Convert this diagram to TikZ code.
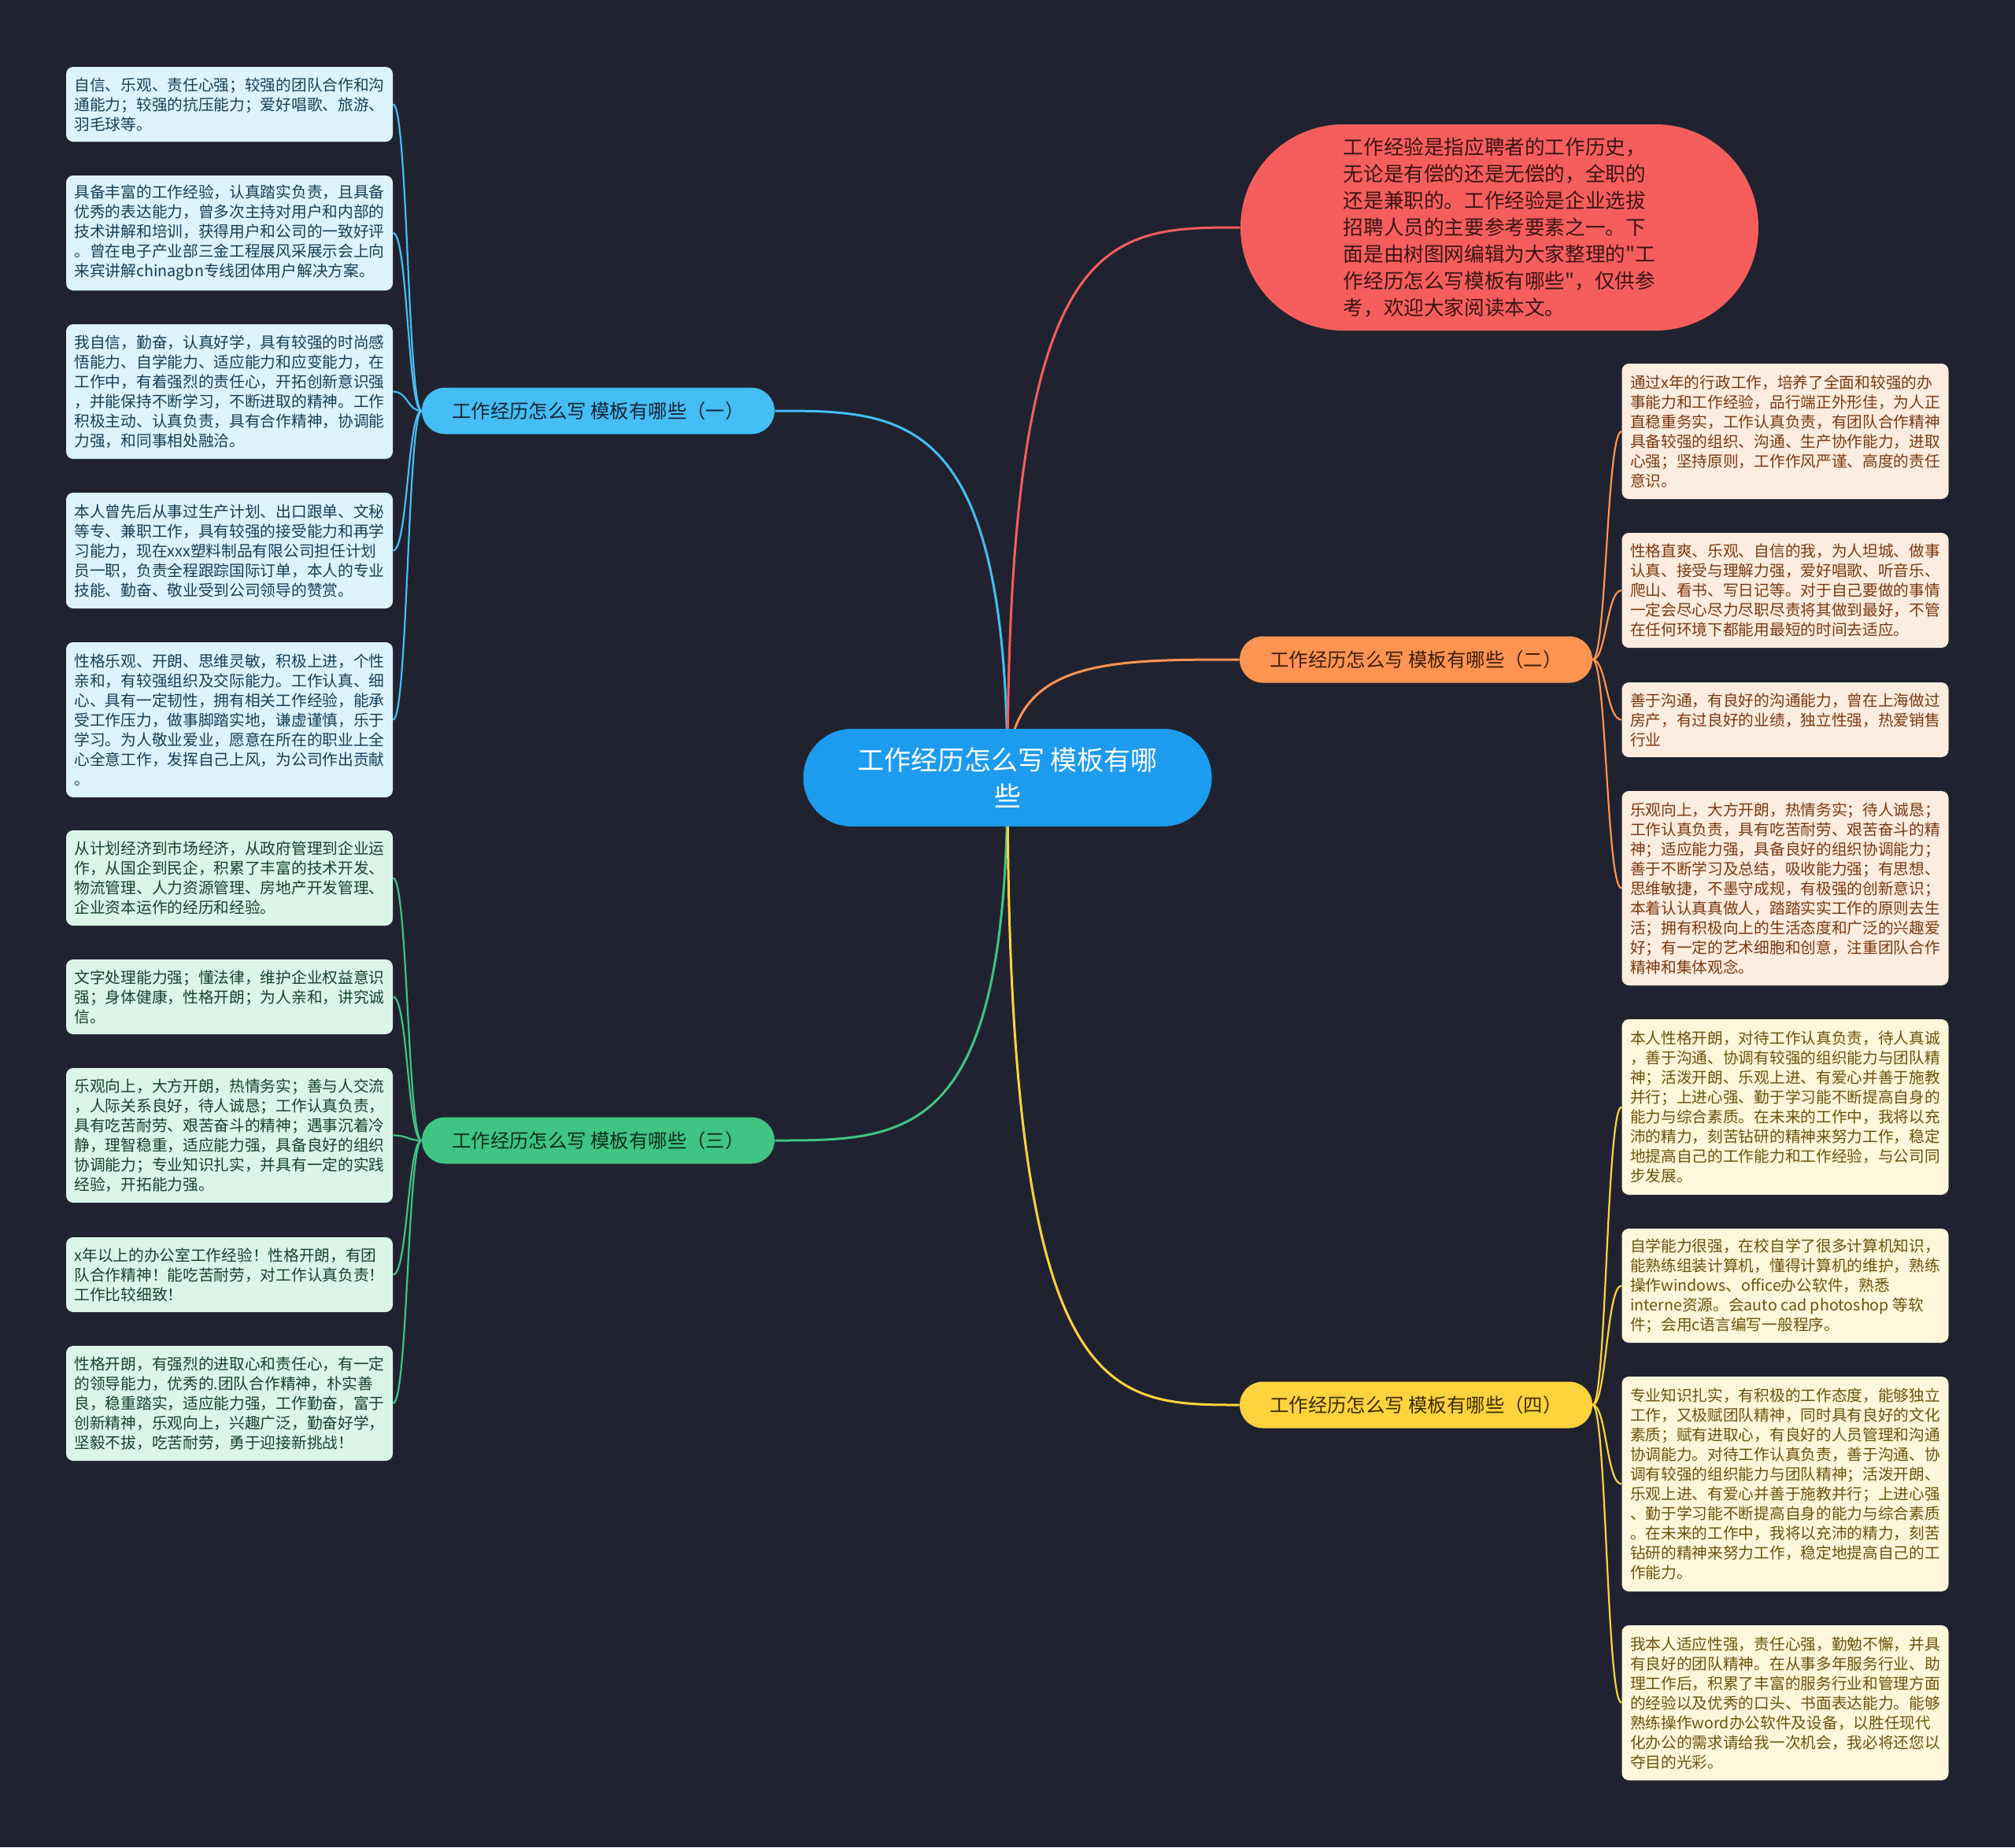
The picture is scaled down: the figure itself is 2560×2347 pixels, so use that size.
\documentclass[tikz,border=0pt]{standalone}
\usepackage{fontspec}
\newfontfamily\cjk{Noto Sans CJK SC}
\usetikzlibrary{backgrounds}
\definecolor{bgc}{RGB}{32,35,47}
\definecolor{cmain}{RGB}{28,155,239}
\definecolor{cred}{RGB}{246,94,94}
\definecolor{cb1}{RGB}{69,190,245}
\definecolor{cb2}{RGB}{255,148,82}
\definecolor{cb3}{RGB}{63,196,131}
\definecolor{cb4}{RGB}{255,211,61}
\definecolor{fb1}{RGB}{221,243,253}
\definecolor{fb2}{RGB}{253,236,224}
\definecolor{fb3}{RGB}{220,245,233}
\definecolor{fb4}{RGB}{254,247,219}
\definecolor{tb1}{RGB}{22,62,88}
\definecolor{tb2}{RGB}{122,56,16}
\definecolor{tb3}{RGB}{22,66,46}
\definecolor{tb4}{RGB}{108,82,10}
\definecolor{tred}{RGB}{58,20,20}
\tikzset{
  leafbox/.style={rounded corners=4.5pt, minimum width=207.5pt, inner sep=0pt, align=left,
    font=\cjk\fontsize{9.85}{12.5}\selectfont},
  bluebox/.style={leafbox, fill=fb1, text=tb1},
  orangebox/.style={leafbox, fill=fb2, text=tb2},
  greenbox/.style={leafbox, fill=fb3, text=tb3},
  yellowbox/.style={leafbox, fill=fb4, text=tb4},
  branchbox/.style={minimum width=224pt, minimum height=29.5pt, rounded corners=14.7pt, inner sep=0pt,
    font=\cjk\fontsize{12.2}{14}\selectfont},
  mainline/.style={line width=1.5pt},
  leafline/.style={line width=1.1pt},
}
\begin{document}
\begin{tikzpicture}[x=0.5pt,y=-0.5pt]
\useasboundingbox (0,0) rectangle (2560,2347);

% central topic
\node[fill=cmain, text=white, minimum width=259.5pt, minimum height=62pt, rounded corners=30.9pt,
  inner sep=0pt, align=center, font=\cjk\fontsize{17}{23}\selectfont] (c) at (1280,988)
  {工作经历怎么写 模板有哪\\些};

% intro bubble
\node[fill=cred, text=tred, minimum width=329pt, minimum height=131pt, rounded corners=65.4pt,
  inner sep=0pt, align=left, font=\cjk\fontsize{12.8}{17}\selectfont] (r) at (1905,289)
  {工作经验是指应聘者的工作历史，\\
   无论是有偿的还是无偿的，全职的\\
   还是兼职的。工作经验是企业选拔\\
   招聘人员的主要参考要素之一。下\\
   面是由树图网编辑为大家整理的"工\\
   作经历怎么写模板有哪些"，仅供参\\
   考，欢迎大家阅读本文。};

% branches
\node[branchbox, fill=cb1, text={rgb,255:red,20;green,35;blue,50}] (b1) at (760,522) {工作经历怎么写 模板有哪些（一）};
\node[branchbox, fill=cb2, text={rgb,255:red,60;green,30;blue,10}] (b2) at (1799,838) {工作经历怎么写 模板有哪些（二）};
\node[branchbox, fill=cb3, text={rgb,255:red,10;green,45;blue,28}] (b3) at (760,1449) {工作经历怎么写 模板有哪些（三）};
\node[branchbox, fill=cb4, text={rgb,255:red,60;green,45;blue,0}] (b4) at (1799,1785) {工作经历怎么写 模板有哪些（四）};

% branch 1 leaves
\node[bluebox, minimum height=47.5pt] (l1) at (291.5,132.5) {自信、乐观、责任心强；较强的团队合作和沟\\通能力；较强的抗压能力；爱好唱歌、旅游、\\羽毛球等。};
\node[bluebox, minimum height=73pt] (l2) at (291.5,296) {具备丰富的工作经验，认真踏实负责，且具备\\优秀的表达能力，曾多次主持对用户和内部的\\技术讲解和培训，获得用户和公司的一致好评\\。曾在电子产业部三金工程展风采展示会上向\\来宾讲解chinagbn专线团体用户解决方案。};
\node[bluebox, minimum height=85.5pt] (l3) at (291.5,497.5) {我自信，勤奋，认真好学，具有较强的时尚感\\悟能力、自学能力、适应能力和应变能力，在\\工作中，有着强烈的责任心，开拓创新意识强\\，并能保持不断学习，不断进取的精神。工作\\积极主动、认真负责，具有合作精神，协调能\\力强，和同事相处融洽。};
\node[bluebox, minimum height=73.5pt] (l4) at (291.5,699.5) {本人曾先后从事过生产计划、出口跟单、文秘\\等专、兼职工作，具有较强的接受能力和再学\\习能力，现在xxx塑料制品有限公司担任计划\\员一职，负责全程跟踪国际订单，本人的专业\\技能、勤奋、敬业受到公司领导的赞赏。};
\node[bluebox, minimum height=98.5pt] (l5) at (291.5,914.5) {性格乐观、开朗、思维灵敏，积极上进，个性\\亲和，有较强组织及交际能力。工作认真、细\\心、具有一定韧性，拥有相关工作经验，能承\\受工作压力，做事脚踏实地，谦虚谨慎，乐于\\学习。为人敬业爱业，愿意在所在的职业上全\\心全意工作，发挥自己上风，为公司作出贡献\\。};

% branch 3 leaves
\node[greenbox, minimum height=60.5pt] (g1) at (291.5,1115.5) {从计划经济到市场经济，从政府管理到企业运\\作，从国企到民企，积累了丰富的技术开发、\\物流管理、人力资源管理、房地产开发管理、\\企业资本运作的经历和经验。};
\node[greenbox, minimum height=47.5pt] (g2) at (291.5,1266.5) {文字处理能力强；懂法律，维护企业权益意识\\强；身体健康，性格开朗；为人亲和，讲究诚\\信。};
\node[greenbox, minimum height=85.5pt] (g3) at (291.5,1442.5) {乐观向上，大方开朗，热情务实；善与人交流\\，人际关系良好，待人诚恳；工作认真负责，\\具有吃苦耐劳、艰苦奋斗的精神；遇事沉着冷\\静，理智稳重，适应能力强，具备良好的组织\\协调能力；专业知识扎实，并具有一定的实践\\经验，开拓能力强。};
\node[greenbox, minimum height=47.5pt] (g4) at (291.5,1619.5) {x年以上的办公室工作经验！性格开朗，有团\\队合作精神！能吃苦耐劳，对工作认真负责！\\工作比较细致！};
\node[greenbox, minimum height=73pt] (g5) at (291.5,1783) {性格开朗，有强烈的进取心和责任心，有一定\\的领导能力，优秀的.团队合作精神，朴实善\\良，稳重踏实，适应能力强，工作勤奋，富于\\创新精神，乐观向上，兴趣广泛，勤奋好学，\\坚毅不拔，吃苦耐劳，勇于迎接新挑战！};

% branch 2 leaves
\node[orangebox, minimum height=86pt] (o1) at (2268,548) {通过x年的行政工作，培养了全面和较强的办\\事能力和工作经验，品行端正外形佳，为人正\\直稳重务实，工作认真负责，有团队合作精神\\具备较强的组织、沟通、生产协作能力，进取\\心强；坚持原则，工作作风严谨、高度的责任\\意识。};
\node[orangebox, minimum height=73pt] (o2) at (2268,750) {性格直爽、乐观、自信的我，为人坦城、做事\\认真、接受与理解力强，爱好唱歌、听音乐、\\爬山、看书、写日记等。对于自己要做的事情\\一定会尽心尽力尽职尽责将其做到最好，不管\\在任何环境下都能用最短的时间去适应。};
\node[orangebox, minimum height=47.5pt] (o3) at (2268,914.5) {善于沟通，有良好的沟通能力，曾在上海做过\\房产，有过良好的业绩，独立性强，热爱销售\\行业};
\node[orangebox, minimum height=123.5pt] (o4) at (2268,1128.5) {乐观向上，大方开朗，热情务实；待人诚恳；\\工作认真负责，具有吃苦耐劳、艰苦奋斗的精\\神；适应能力强，具备良好的组织协调能力；\\善于不断学习及总结，吸收能力强；有思想、\\思维敏捷，不墨守成规，有极强的创新意识；\\本着认认真真做人，踏踏实实工作的原则去生\\活；拥有积极向上的生活态度和广泛的兴趣爱\\好；有一定的艺术细胞和创意，注重团队合作\\精神和集体观念。};

% branch 4 leaves
\node[yellowbox, minimum height=111.5pt] (y1) at (2268,1406.5) {本人性格开朗，对待工作认真负责，待人真诚\\，善于沟通、协调有较强的组织能力与团队精\\神；活泼开朗、乐观上进、有爱心并善于施教\\并行；上进心强、勤于学习能不断提高自身的\\能力与综合素质。在未来的工作中，我将以充\\沛的精力，刻苦钻研的精神来努力工作，稳定\\地提高自己的工作能力和工作经验，与公司同\\步发展。};
\node[yellowbox, minimum height=72.5pt] (y2) at (2268,1633.5) {自学能力很强，在校自学了很多计算机知识，\\能熟练组装计算机，懂得计算机的维护，熟练\\操作windows、office办公软件，熟悉\\interne资源。会auto cad photoshop 等软\\件；会用c语言编写一般程序。};
\node[yellowbox, minimum height=136.5pt] (y3) at (2268,1885.5) {专业知识扎实，有积极的工作态度，能够独立\\工作，又极赋团队精神，同时具有良好的文化\\素质；赋有进取心，有良好的人员管理和沟通\\协调能力。对待工作认真负责，善于沟通、协\\调有较强的组织能力与团队精神；活泼开朗、\\乐观上进、有爱心并善于施教并行；上进心强\\、勤于学习能不断提高自身的能力与综合素质\\。在未来的工作中，我将以充沛的精力，刻苦\\钻研的精神来努力工作，稳定地提高自己的工\\作能力。};
\node[yellowbox, minimum height=98.5pt] (y4) at (2268,2163.5) {我本人适应性强，责任心强，勤勉不懈，并具\\有良好的团队精神。在从事多年服务行业、助\\理工作后，积累了丰富的服务行业和管理方面\\的经验以及优秀的口头、书面表达能力。能够\\熟练操作word办公软件及设备，以胜任现代\\化办公的需求请给我一次机会，我必将还您以\\夺目的光彩。};

\begin{pgfonlayer}{background}
\fill[bgc] (0,0) rectangle (2560,2347);
% main connectors
\draw[mainline, cb1] (c.center) .. controls (1280,522) and (1150,522) .. (b1.east);
\draw[mainline, cred] (c.center) .. controls (1280,289) and (1404,289) .. (r.west);
\draw[mainline, cb2] (c.center) .. controls (1280,838) and (1400,838) .. (b2.west);
\draw[mainline, cb3] (c.center) .. controls (1280,1449) and (1155,1449) .. (b3.east);
\draw[mainline, cb4] (c.center) .. controls (1280,1785) and (1405,1785) .. (b4.west);
% leaf connectors
\foreach \n/\y in {l1/132.5,l2/296,l3/497.5,l4/699.5,l5/914.5}
  \draw[leafline, cb1] (b1.west) .. controls (518,522) and (518,\y) .. (\n.east);
\foreach \n/\y in {g1/1115.5,g2/1266.5,g3/1442.5,g4/1619.5,g5/1783}
  \draw[leafline, cb3] (b3.west) .. controls (518,1449) and (518,\y) .. (\n.east);
\foreach \n/\y in {o1/548,o2/750,o3/914.5,o4/1128.5}
  \draw[leafline, cb2] (b2.east) .. controls (2041,838) and (2041,\y) .. (\n.west);
\foreach \n/\y in {y1/1406.5,y2/1633.5,y3/1885.5,y4/2163.5}
  \draw[leafline, cb4] (b4.east) .. controls (2041,1785) and (2041,\y) .. (\n.west);
\end{pgfonlayer}
\end{tikzpicture}
\end{document}
